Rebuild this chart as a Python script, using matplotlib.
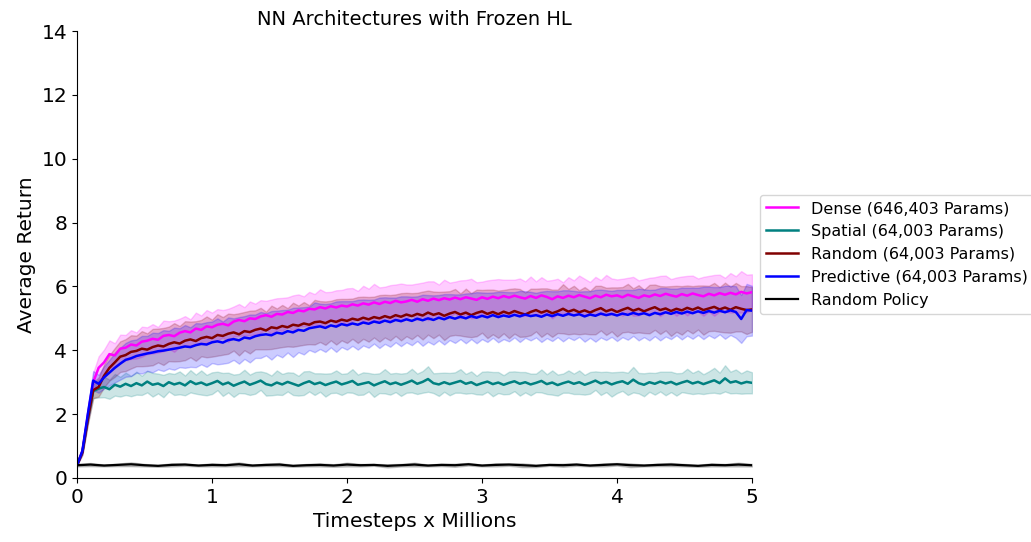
import numpy as np
import matplotlib
matplotlib.use("Agg")
import matplotlib.pyplot as plt

# x grid (timesteps in millions), 0.04 step
steps = np.linspace(0, 5, 126)
policy_steps = np.linspace(0, 5, 51)

dense_mean = [
    0.40, 0.85, 1.95, 3.00, 3.45, 3.62, 3.88, 3.84, 4.05, 4.08,
    4.18, 4.15, 4.27, 4.30, 4.36, 4.33, 4.45, 4.48, 4.44, 4.55,
    4.60, 4.56, 4.68, 4.64, 4.75, 4.72, 4.80, 4.83, 4.78, 4.90,
    4.95, 4.91, 5.00, 4.98, 5.06, 5.10, 5.05, 5.14, 5.12, 5.20,
    5.17, 5.25, 5.22, 5.30, 5.28, 5.35, 5.31, 5.38, 5.34, 5.40,
    5.37, 5.44, 5.40, 5.47, 5.43, 5.50, 5.45, 5.52, 5.48, 5.55,
    5.50, 5.53, 5.58, 5.52, 5.60, 5.55, 5.62, 5.57, 5.63, 5.59,
    5.65, 5.60, 5.66, 5.62, 5.58, 5.66, 5.61, 5.68, 5.63, 5.70,
    5.65, 5.71, 5.66, 5.62, 5.70, 5.64, 5.72, 5.67, 5.60, 5.69,
    5.64, 5.71, 5.66, 5.73, 5.68, 5.63, 5.71, 5.66, 5.74, 5.69,
    5.72, 5.66, 5.74, 5.69, 5.64, 5.72, 5.68, 5.75, 5.70, 5.77,
    5.72, 5.68, 5.76, 5.71, 5.78, 5.73, 5.69, 5.77, 5.72, 5.79,
    5.74, 5.80, 5.75, 5.83, 5.78, 5.82]
dense_std = [
    0.00, 0.08, 0.20, 0.30, 0.36, 0.40, 0.43, 0.38, 0.44, 0.40,
    0.45, 0.41, 0.47, 0.42, 0.46, 0.40, 0.48, 0.43, 0.49, 0.44,
    0.47, 0.41, 0.50, 0.45, 0.51, 0.46, 0.49, 0.43, 0.52, 0.47,
    0.50, 0.44, 0.53, 0.48, 0.51, 0.45, 0.54, 0.49, 0.52, 0.46,
    0.55, 0.50, 0.47, 0.53, 0.48, 0.56, 0.51, 0.45, 0.54, 0.49,
    0.57, 0.51, 0.46, 0.55, 0.50, 0.58, 0.52, 0.47, 0.56, 0.51,
    0.59, 0.53, 0.48, 0.57, 0.52, 0.61, 0.54, 0.49, 0.58, 0.53,
    0.50, 0.59, 0.54, 0.62, 0.55, 0.49, 0.58, 0.53, 0.60, 0.51,
    0.56, 0.50, 0.59, 0.54, 0.61, 0.52, 0.57, 0.51, 0.60, 0.55,
    0.49, 0.58, 0.53, 0.61, 0.56, 0.51, 0.59, 0.54, 0.62, 0.56,
    0.50, 0.58, 0.53, 0.61, 0.55, 0.51, 0.59, 0.54, 0.63, 0.57,
    0.51, 0.60, 0.55, 0.62, 0.56, 0.52, 0.61, 0.56, 0.64, 0.58,
    0.53, 0.62, 0.57, 0.65, 0.59, 0.56]

spatial_mean = [
    0.40, 0.82, 1.85, 2.72, 2.80, 2.85, 2.78, 2.92, 2.86, 2.95,
    2.88, 2.97, 2.90, 3.02, 2.92, 2.96, 2.88, 3.00, 2.93, 2.98,
    2.90, 3.03, 2.94, 2.99, 2.91, 2.97, 3.04, 2.93, 2.99, 2.89,
    2.96, 3.02, 2.92, 2.98, 3.05, 2.94, 2.90, 2.99, 2.93, 3.01,
    2.95, 2.89, 2.97, 3.03, 2.94, 2.99, 2.91, 2.97, 3.02, 2.93,
    2.98, 3.04, 2.92, 2.96, 3.00, 2.90, 2.97, 3.03, 2.94, 2.99,
    2.92, 2.98, 3.05, 2.95, 3.01, 3.10, 2.97, 2.93, 3.00, 2.94,
    2.99, 3.04, 2.95, 3.00, 2.91, 2.97, 3.02, 2.94, 2.99, 2.92,
    2.98, 3.03, 2.95, 3.00, 2.93, 2.98, 3.04, 2.94, 2.99, 2.91,
    2.97, 3.02, 2.95, 3.00, 2.92, 2.98, 3.05, 2.96, 3.01, 2.93,
    2.99, 3.03, 2.95, 3.08, 2.97, 2.92, 3.00, 2.95, 3.02, 2.96,
    3.01, 2.93, 2.99, 3.04, 2.96, 3.01, 2.94, 3.00, 3.06, 2.97,
    3.12, 2.99, 3.03, 2.96, 3.01, 2.98]
spatial_std = [
    0.00, 0.06, 0.15, 0.22, 0.28, 0.32, 0.30, 0.34, 0.31, 0.35,
    0.32, 0.36, 0.30, 0.34, 0.37, 0.31, 0.35, 0.29, 0.33, 0.36,
    0.31, 0.35, 0.30, 0.38, 0.32, 0.34, 0.29, 0.36, 0.31, 0.35,
    0.30, 0.37, 0.32, 0.34, 0.29, 0.36, 0.31, 0.38, 0.33, 0.30,
    0.35, 0.31, 0.37, 0.32, 0.34, 0.29, 0.36, 0.31, 0.35, 0.33,
    0.30, 0.37, 0.32, 0.35, 0.29, 0.36, 0.31, 0.38, 0.33, 0.30,
    0.35, 0.31, 0.37, 0.32, 0.34, 0.40, 0.31, 0.36, 0.30, 0.35,
    0.32, 0.37, 0.31, 0.34, 0.29, 0.36, 0.32, 0.38, 0.33, 0.30,
    0.35, 0.31, 0.37, 0.32, 0.34, 0.29, 0.36, 0.31, 0.38, 0.33,
    0.30, 0.35, 0.32, 0.37, 0.31, 0.34, 0.29, 0.36, 0.32, 0.38,
    0.33, 0.30, 0.35, 0.40, 0.32, 0.36, 0.30, 0.34, 0.31, 0.37,
    0.32, 0.35, 0.30, 0.38, 0.33, 0.36, 0.31, 0.34, 0.39, 0.33,
    0.41, 0.34, 0.37, 0.32, 0.36, 0.33]

random_mean = [
    0.40, 0.80, 1.85, 2.75, 2.85, 3.20, 3.45, 3.62, 3.80, 3.85,
    3.95, 3.98, 4.05, 4.02, 4.10, 4.15, 4.12, 4.20, 4.25, 4.21,
    4.30, 4.34, 4.29, 4.38, 4.42, 4.38, 4.48, 4.45, 4.52, 4.56,
    4.50, 4.60, 4.57, 4.64, 4.68, 4.62, 4.72, 4.69, 4.76, 4.72,
    4.80, 4.77, 4.84, 4.80, 4.88, 4.90, 4.85, 4.93, 4.89, 4.96,
    4.92, 4.99, 4.95, 5.02, 4.97, 5.04, 5.00, 5.07, 5.02, 5.10,
    5.05, 5.12, 5.07, 5.14, 5.09, 5.18, 5.11, 5.16, 5.08, 5.15,
    5.20, 5.12, 5.18, 5.10, 5.17, 5.22, 5.14, 5.20, 5.13, 5.21,
    5.15, 5.23, 5.17, 5.12, 5.20, 5.26, 5.18, 5.24, 5.16, 5.22,
    5.30, 5.21, 5.27, 5.19, 5.25, 5.18, 5.26, 5.32, 5.22, 5.28,
    5.20, 5.27, 5.33, 5.24, 5.30, 5.22, 5.29, 5.35, 5.26, 5.31,
    5.23, 5.30, 5.25, 5.33, 5.27, 5.34, 5.26, 5.31, 5.36, 5.28,
    5.34, 5.27, 5.35, 5.30, 5.26, 5.28]
random_std = [
    0.00, 0.08, 0.18, 0.25, 0.30, 0.36, 0.40, 0.45, 0.48, 0.50,
    0.52, 0.48, 0.55, 0.51, 0.57, 0.53, 0.58, 0.54, 0.60, 0.55,
    0.61, 0.56, 0.62, 0.57, 0.64, 0.58, 0.65, 0.59, 0.63, 0.57,
    0.66, 0.60, 0.67, 0.61, 0.65, 0.59, 0.68, 0.62, 0.66, 0.60,
    0.69, 0.63, 0.67, 0.61, 0.70, 0.64, 0.68, 0.62, 0.71, 0.65,
    0.69, 0.63, 0.72, 0.66, 0.70, 0.64, 0.73, 0.67, 0.71, 0.65,
    0.74, 0.68, 0.72, 0.66, 0.75, 0.69, 0.73, 0.67, 0.76, 0.70,
    0.72, 0.66, 0.75, 0.69, 0.73, 0.67, 0.76, 0.70, 0.74, 0.68,
    0.77, 0.71, 0.75, 0.69, 0.73, 0.67, 0.76, 0.70, 0.74, 0.68,
    0.77, 0.71, 0.75, 0.69, 0.73, 0.68, 0.76, 0.70, 0.74, 0.69,
    0.77, 0.71, 0.75, 0.70, 0.74, 0.68, 0.76, 0.71, 0.75, 0.69,
    0.78, 0.72, 0.76, 0.70, 0.74, 0.69, 0.77, 0.71, 0.75, 0.70,
    0.78, 0.72, 0.76, 0.71, 0.75, 0.70]

predictive_mean = [
    0.40, 0.85, 2.00, 3.05, 2.95, 3.15, 3.30, 3.45, 3.58, 3.70,
    3.75, 3.82, 3.86, 3.90, 3.93, 3.97, 3.99, 4.02, 4.05, 4.08,
    4.12, 4.10, 4.16, 4.20, 4.18, 4.25, 4.28, 4.24, 4.32, 4.35,
    4.31, 4.40, 4.37, 4.44, 4.48, 4.50, 4.47, 4.55, 4.52, 4.60,
    4.56, 4.64, 4.61, 4.69, 4.72, 4.75, 4.70, 4.78, 4.74, 4.82,
    4.78, 4.84, 4.80, 4.87, 4.83, 4.90, 4.86, 4.93, 4.88, 4.95,
    4.91, 4.97, 4.92, 4.99, 4.94, 5.00, 4.95, 5.02, 4.97, 5.04,
    4.99, 5.05, 5.00, 5.07, 5.02, 5.08, 5.03, 5.10, 5.04, 5.09,
    5.05, 5.11, 5.06, 5.12, 5.07, 5.10, 5.05, 5.12, 5.07, 5.13,
    5.08, 5.14, 5.09, 5.13, 5.06, 5.12, 5.08, 5.15, 5.10, 5.14,
    5.09, 5.15, 5.11, 5.17, 5.12, 5.16, 5.10, 5.17, 5.13, 5.19,
    5.14, 5.20, 5.15, 5.21, 5.16, 5.22, 5.17, 5.23, 5.18, 5.24,
    5.19, 5.25, 5.20, 4.98, 5.26, 5.24]
predictive_std = [
    0.00, 0.10, 0.22, 0.30, 0.28, 0.35, 0.40, 0.46, 0.50, 0.53,
    0.56, 0.52, 0.59, 0.55, 0.62, 0.57, 0.64, 0.59, 0.66, 0.61,
    0.67, 0.62, 0.69, 0.64, 0.70, 0.65, 0.72, 0.66, 0.71, 0.65,
    0.73, 0.67, 0.75, 0.68, 0.72, 0.66, 0.76, 0.69, 0.74, 0.67,
    0.77, 0.70, 0.74, 0.68, 0.78, 0.71, 0.75, 0.69, 0.79, 0.72,
    0.76, 0.70, 0.78, 0.72, 0.75, 0.69, 0.79, 0.73, 0.77, 0.70,
    0.78, 0.72, 0.76, 0.70, 0.80, 0.73, 0.77, 0.71, 0.79, 0.72,
    0.76, 0.70, 0.78, 0.72, 0.80, 0.73, 0.77, 0.71, 0.79, 0.74,
    0.77, 0.71, 0.80, 0.73, 0.76, 0.70, 0.79, 0.74, 0.78, 0.72,
    0.80, 0.74, 0.77, 0.71, 0.79, 0.73, 0.81, 0.75, 0.78, 0.72,
    0.80, 0.74, 0.78, 0.72, 0.81, 0.75, 0.79, 0.73, 0.82, 0.76,
    0.79, 0.73, 0.81, 0.75, 0.80, 0.74, 0.82, 0.76, 0.80, 0.74,
    0.83, 0.77, 0.81, 0.75, 0.82, 0.78]

policy_mean = [
    0.40, 0.42, 0.39, 0.41, 0.43, 0.40, 0.38, 0.41, 0.42, 0.39,
    0.41, 0.40, 0.43, 0.39, 0.41, 0.42, 0.38, 0.40, 0.41, 0.39,
    0.42, 0.40, 0.41, 0.38, 0.40, 0.42, 0.39, 0.41, 0.40, 0.43,
    0.39, 0.41, 0.42, 0.40, 0.38, 0.41, 0.40, 0.42, 0.39, 0.41,
    0.43, 0.40, 0.39, 0.41, 0.42, 0.40, 0.38, 0.41, 0.40, 0.42,
    0.40]
policy_std = [
    0.04, 0.05, 0.03, 0.04, 0.06, 0.04, 0.03, 0.05, 0.04, 0.03,
    0.05, 0.04, 0.06, 0.03, 0.04, 0.05, 0.03, 0.04, 0.05, 0.04,
    0.06, 0.04, 0.03, 0.05, 0.04, 0.06, 0.03, 0.04, 0.05, 0.04,
    0.03, 0.05, 0.04, 0.06, 0.04, 0.03, 0.05, 0.04, 0.03, 0.05,
    0.04, 0.06, 0.03, 0.04, 0.05, 0.04, 0.03, 0.05, 0.04, 0.06,
    0.04]

series = [
    ("Dense (646,403 Params)", dense_mean, dense_std, "#ff00ff"),
    ("Spatial (64,003 Params)", spatial_mean, spatial_std, "#008080"),
    ("Random (64,003 Params)", random_mean, random_std, "#800000"),
    ("Predictive (64,003 Params)", predictive_mean, predictive_std, "#0000ff"),
]

fig = plt.figure(figsize=(10.31, 5.42), dpi=100)
ax = fig.add_axes([0.0747, 0.1181, 0.6547, 0.8247])

for label, m, s, c in series:
    m = np.array(m); s = np.array(s)
    ax.fill_between(steps, m - s, m + s, color=c, alpha=0.2, linewidth=1)
    ax.plot(steps, m, color=c, lw=1.8, label=label)

pm = np.array(policy_mean); ps = np.array(policy_std)
ax.fill_between(policy_steps, pm - ps, pm + ps, color="black", alpha=0.2, linewidth=1)
ax.plot(policy_steps, pm, color="black", lw=1.6, label="Random Policy")

ax.set_xlim(0, 5)
ax.set_ylim(0, 14)
ax.set_xticks([0, 1, 2, 3, 4, 5])
ax.set_yticks(range(0, 15, 2))
ax.tick_params(labelsize=14.5)
ax.spines["top"].set_visible(False)
ax.spines["right"].set_visible(False)
ax.set_xlabel("Timesteps x Millions", fontsize=14.5)
ax.set_ylabel("Average Return", fontsize=14.5)
ax.set_title("NN Architectures with Frozen HL", fontsize=14, pad=4)
ax.legend(loc="center left", bbox_to_anchor=(1.0, 0.5), fontsize=11.5)

fig.savefig("out.png", dpi=100)
